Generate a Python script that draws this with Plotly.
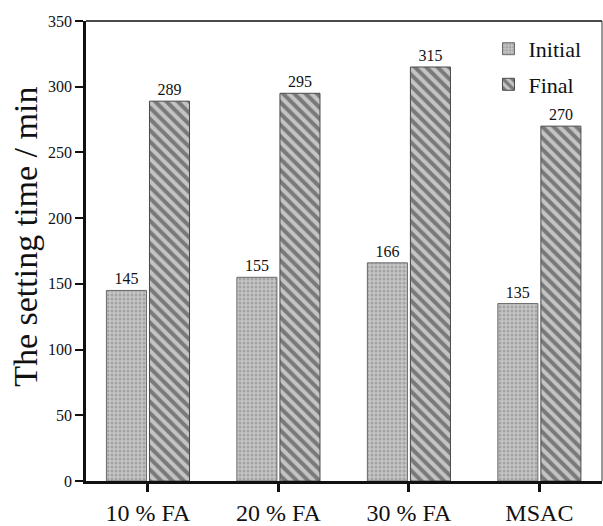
import plotly.graph_objects as go

# Setting times of the mixes (minutes)
mixes = ["10 % FA", "20 % FA", "30 % FA", "MSAC"]
initial_set = [145, 155, 166, 135]
final_set = [289, 295, 315, 270]
y_ticks = [0, 50, 100, 150, 200, 250, 300, 350]

SERIF = "Liberation Serif, Times New Roman, serif"

fig = go.Figure()
fig.add_trace(go.Bar(
    name="Initial", x=mixes, y=initial_set, legendgroup="initial",
    text=initial_set, textposition="outside", cliponaxis=False,
    textfont=dict(family=SERIF, size=16, color="#111"),
    marker=dict(color="#b8b8b8",
                line=dict(color="#6a6a6a", width=1),
                pattern=dict(shape=".", fgcolor="#808080", bgcolor="#c6c6c6",
                             size=4, solidity=0.45)),
))
fig.add_trace(go.Bar(
    name="Final", x=mixes, y=final_set, legendgroup="final",
    text=final_set, textposition="outside", cliponaxis=False,
    textfont=dict(family=SERIF, size=16, color="#111"),
    marker=dict(color="#bdbdbd",
                line=dict(color="#4a4a4a", width=1),
                pattern=dict(shape="\\", fgcolor="#2e2e2e", bgcolor="#c4c4c4",
                             size=8, solidity=0.5)),
))

fig.update_layout(
    width=603, height=526,
    margin=dict(l=86, r=1, t=21, b=45),
    paper_bgcolor="white", plot_bgcolor="white",
    barmode="group", bargap=0.34, bargroupgap=0.07,
    font=dict(family=SERIF, color="#111"),
    showlegend=True,
    legend=dict(x=0.78, y=0.985, xanchor="left", yanchor="top",
                font=dict(family=SERIF, size=22, color="#111"),
                bgcolor="rgba(0,0,0,0)", tracegroupgap=4),
    xaxis=dict(
        range=[-0.475, 3.48], showline=True, linecolor="#111", linewidth=2.5,
        ticks="outside", ticklen=8, tickwidth=2.5, tickcolor="#111",
        tickfont=dict(family=SERIF, size=24, color="#111"),
        showgrid=False, zeroline=False,
    ),
    yaxis=dict(
        range=[0, 350], tickvals=y_ticks, showline=True, linecolor="#111",
        linewidth=2.5, ticks="outside", ticklen=8, tickwidth=2, tickcolor="#111",
        tickfont=dict(family=SERIF, size=16, color="#111"),
        showgrid=False, zeroline=False,
    ),
    shapes=[
        dict(type="line", xref="paper", yref="paper", x0=0, x1=1, y0=1, y1=1,
             line=dict(color="#111", width=1.5)),
        dict(type="line", xref="paper", yref="paper", x0=1, x1=1, y0=0, y1=1,
             line=dict(color="#333", width=1)),
    ],
    annotations=[
        dict(text="The setting time / min", xref="paper", yref="paper",
             x=-0.117, y=0.53, xanchor="center", yanchor="middle",
             textangle=-90, showarrow=False,
             font=dict(family=SERIF, size=34, color="#111")),
    ],
)

fig.write_html("out.html")
